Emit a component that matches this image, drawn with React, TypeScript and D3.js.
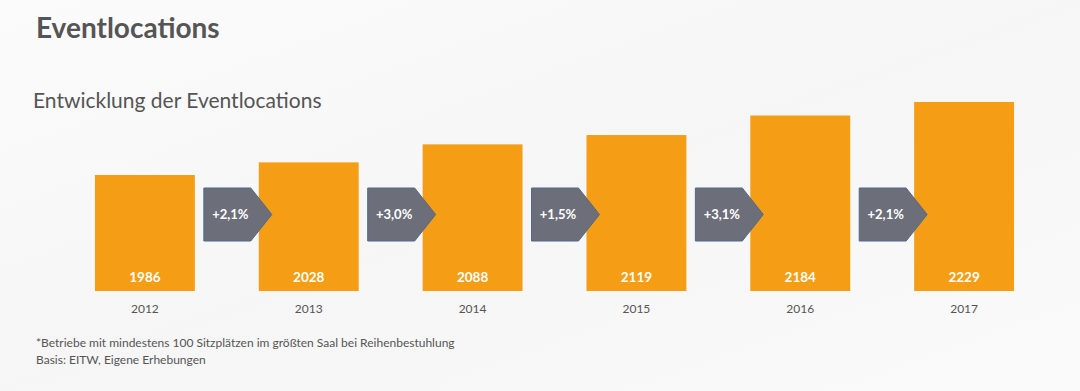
import React from "react";
import * as d3 from "d3";

const years = ["2012", "2013", "2014", "2015", "2016", "2017"];
const values = [1986, 2028, 2088, 2119, 2184, 2229];
const growth = ["+2,1%", "+3,0%", "+1,5%", "+3,1%", "+2,1%"];
const title = "Eventlocations";
const subtitle = "Entwicklung der Eventlocations";
const notes = [
  "*Betriebe mit mindestens 100 Sitzplätzen im größten Saal bei Reihenbestuhlung",
  "Basis: EITW, Eigene Erhebungen",
];

const W = 1080;
const H = 391;
const FONT = "Lato, 'Open Sans', sans-serif";

export default function App() {
  const x = d3.scaleBand<string>().domain(years).range([95 - 32, 1014 + 32]).paddingInner(64 / 164).paddingOuter(0.195);
  const bw = x.bandwidth();
  const y = d3.scaleLinear().domain([1600, 2229]).range([291, 102]);

  const arrowPath = (i: number) => {
    const x0 = (x(years[i]) as number) + bw + 9;
    const x1 = (x(years[i + 1]) as number) + 13;
    const top = 188;
    const bot = 241;
    const mid = (top + bot) / 2;
    const sh = x1 - 21;
    return { d: `M${x0},${top}L${sh},${top}L${x1},${mid}L${sh},${bot}L${x0},${bot}Z`, cx: (x0 + sh) / 2 + 3, mid };
  };

  return (
    <svg width={W} height={H} style={{ position: "absolute", left: 0, top: 0, display: "block" }} fontFamily={FONT}>
      <defs>
        <linearGradient id="bg" x1="0" y1="0" x2="1" y2="1">
          <stop offset="0" stopColor="#fbfbfb" />
          <stop offset="0.5" stopColor="#f6f6f6" />
          <stop offset="1" stopColor="#fafafa" />
        </linearGradient>
      </defs>
      <rect x={0} y={0} width={W} height={H} fill="url(#bg)" />
      <text x={36} y={38} fontSize={28} fontWeight={700} fill="#555555">{title}</text>
      <text x={33} y={108} fontSize={21} fill="#555555">{subtitle}</text>
      {years.map((yr, i) => {
        const bx = x(yr) as number;
        return (
          <g key={yr}>
            <rect x={bx} y={y(values[i])} width={bw} height={y(1600) - y(values[i])} fill="#F59D15" />
            <text x={bx + bw / 2} y={282} textAnchor="middle" fontSize={13.5} fontWeight={700} fill="#ffffff">{values[i]}</text>
            <text x={bx + bw / 2} y={313} textAnchor="middle" fontSize={12} fill="#555555">{yr}</text>
          </g>
        );
      })}
      {growth.map((g, i) => {
        const a = arrowPath(i);
        return (
          <g key={i}>
            <path d={a.d} fill="#6C6F7A" stroke="#50698a" strokeWidth={1} />
            <text x={a.cx} y={a.mid + 4.5} textAnchor="middle" fontSize={13} fontWeight={700} fill="#ffffff">{g}</text>
          </g>
        );
      })}
      {notes.map((n, i) => (
        <text key={i} x={36} y={347 + i * 17} fontSize={12} fill="#555555">{n}</text>
      ))}
    </svg>
  );
}
